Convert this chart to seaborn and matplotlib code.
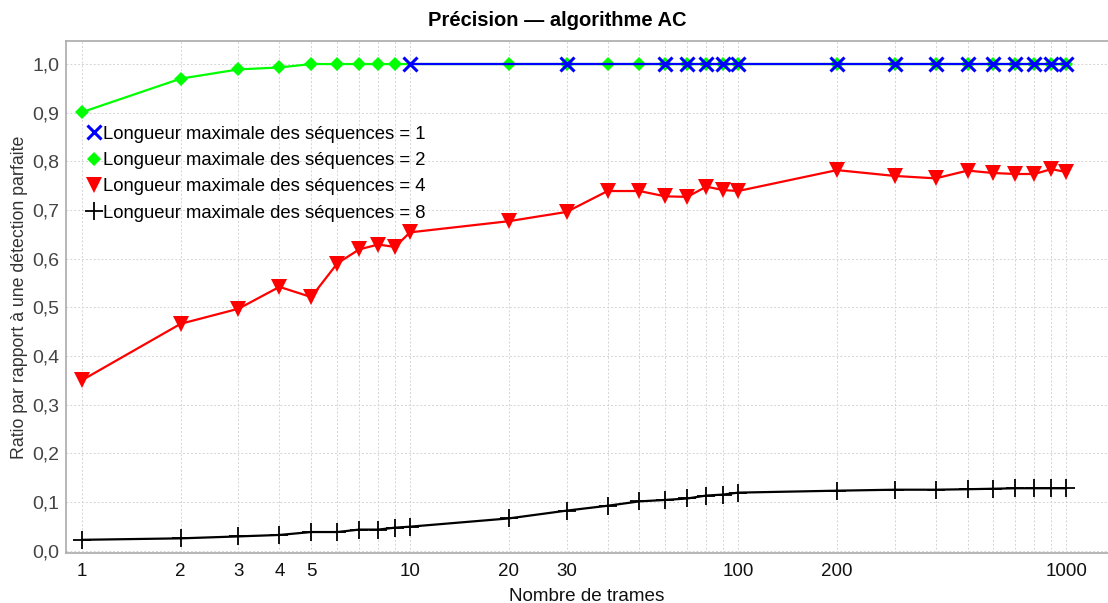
import matplotlib
matplotlib.use("Agg")
import matplotlib.pyplot as plt
import matplotlib.ticker as mticker
from matplotlib.lines import Line2D
import seaborn as sns

# ---- data ----
x_l1 = [10, 30, 60, 70, 80, 90, 100, 200, 300, 400, 500, 600, 700, 800, 900, 1000]
y_l1 = [1.0] * 16

x_l2 = [1, 2, 3, 4, 5, 6, 7, 8, 9, 20, 30, 40, 50, 60, 70, 80, 90, 100,
        200, 300, 400, 500, 600, 700, 800, 900, 1000]
y_l2 = [0.901, 0.970, 0.989, 0.993, 1.0, 1.0, 1.0, 1.0, 1.0, 1.0, 1.0, 1.0, 1.0, 1.0,
        1.0, 1.0, 1.0, 1.0, 1.0, 1.0, 1.0, 1.0, 1.0, 1.0, 1.0, 1.0, 1.0]

x_all = [1, 2, 3, 4, 5, 6, 7, 8, 9, 10, 20, 30, 40, 50, 60, 70, 80, 90, 100,
         200, 300, 400, 500, 600, 700, 800, 900, 1000]
y_l4 = [0.350, 0.466, 0.497, 0.542, 0.521, 0.590, 0.619, 0.629, 0.624, 0.654,
        0.677, 0.696, 0.739, 0.739, 0.728, 0.727, 0.748, 0.741, 0.739,
        0.782, 0.770, 0.765, 0.781, 0.776, 0.774, 0.774, 0.784, 0.778]
y_l8 = [0.022, 0.025, 0.029, 0.032, 0.038, 0.038, 0.043, 0.043, 0.047, 0.049,
        0.066, 0.082, 0.092, 0.101, 0.104, 0.107, 0.113, 0.115, 0.119,
        0.123, 0.125, 0.125, 0.126, 0.127, 0.128, 0.128, 0.128, 0.128]

labels = ["Longueur maximale des séquences = 1",
          "Longueur maximale des séquences = 2",
          "Longueur maximale des séquences = 4",
          "Longueur maximale des séquences = 8"]
xtick_vals = [1, 2, 3, 4, 5, 10, 20, 30, 100, 200, 1000]
ytick_vals = [0.0, 0.1, 0.2, 0.3, 0.4, 0.5, 0.6, 0.7, 0.8, 0.9, 1.0]

title = "Précision — algorithme AC"
xlabel = "Nombre de trames"
ylabel = "Ratio par rapport à une détection parfaite"

# ---- style ----
sns.set_theme(style="white")
plt.rcParams["font.family"] = ["Liberation Sans", "DejaVu Sans"]

fig = plt.figure(figsize=(11.08, 6.03), dpi=100)
ax = fig.add_axes([0.0596, 0.083, 0.9404, 0.8495])

ax.set_xscale("log")
ax.set_xlim(0.895, 1340)
ax.set_ylim(-0.005, 1.048)

# ticks & grid
ax.xaxis.set_major_locator(mticker.FixedLocator(xtick_vals))
ax.xaxis.set_major_formatter(mticker.FixedFormatter([str(v) for v in xtick_vals]))
minor_x = [m * 10 ** e for e in range(0, 3) for m in range(1, 10)] + [1000]
minor_x = [v for v in minor_x if v not in xtick_vals]
ax.xaxis.set_minor_locator(mticker.FixedLocator(minor_x))
ax.xaxis.set_minor_formatter(mticker.NullFormatter())
ax.yaxis.set_major_locator(mticker.FixedLocator(ytick_vals))
ax.yaxis.set_major_formatter(mticker.FixedFormatter([f"{v:.1f}".replace(".", ",") for v in ytick_vals]))

grid_kw = dict(color="#d4d4d4", linestyle=(0, (2, 2)), linewidth=0.7)
ax.grid(True, which="major", axis="both", **grid_kw)
ax.grid(True, which="minor", axis="x", **grid_kw)
ax.set_axisbelow(True)

for side in ["left", "bottom", "top"]:
    ax.spines[side].set_color("#aaaaaa")
    ax.spines[side].set_linewidth(1.2)
ax.spines["right"].set_visible(False)

ax.tick_params(axis="x", which="both", direction="out", length=3, color="#cccccc",
               labelsize=13.5, labelcolor="#111111", pad=4)
ax.tick_params(axis="y", which="major", direction="out", length=0,
               labelsize=14, labelcolor="#444444", pad=5)

# ---- series ----
sns.lineplot(x=x_l2, y=y_l2, ax=ax, color="#00ff00", marker="D", markersize=7,
             markeredgewidth=0, markeredgecolor="#00ff00", linewidth=1.6, zorder=3)
sns.lineplot(x=x_l1, y=y_l1, ax=ax, color="#0000ff", marker="x", markersize=10,
             markeredgewidth=2.2, markeredgecolor="#0000ff", linewidth=1.6, zorder=4)
sns.lineplot(x=x_all, y=y_l4, ax=ax, color="#ff0000", marker="v", markersize=11,
             markeredgewidth=0, markeredgecolor="#ff0000", linewidth=1.6, zorder=3)
sns.lineplot(x=x_all, y=y_l8, ax=ax, color="#000000", marker="+", markersize=13,
             markeredgewidth=1.3, markeredgecolor="#000000", linewidth=1.6, zorder=3)

# legend (markers only)
handles = [
    Line2D([], [], color="#0000ff", marker="x", markersize=10, markeredgewidth=2.2, linestyle="none"),
    Line2D([], [], color="#00ff00", marker="D", markersize=7, markeredgewidth=0, linestyle="none"),
    Line2D([], [], color="#ff0000", marker="v", markersize=11, markeredgewidth=0, linestyle="none"),
    Line2D([], [], color="#000000", marker="+", markersize=13, markeredgewidth=1.3, linestyle="none"),
]
leg = ax.legend(handles, labels, loc="upper left", bbox_to_anchor=(0.0135, 0.848),
                frameon=False, fontsize=13.3, handlelength=0.75, handletextpad=0.1,
                labelspacing=0.5, borderaxespad=0)
for t in leg.get_texts():
    t.set_color("#000000")

fig.suptitle(title, x=0.503, y=0.982, va="top", fontsize=14.5, fontweight="bold", color="#000000")
ax.set_xlabel(xlabel, fontsize=13.6, labelpad=6, color="#111111")
ax.set_ylabel(ylabel, fontsize=12.8, labelpad=3, color="#333333")

fig.savefig("out.png", dpi=100)
